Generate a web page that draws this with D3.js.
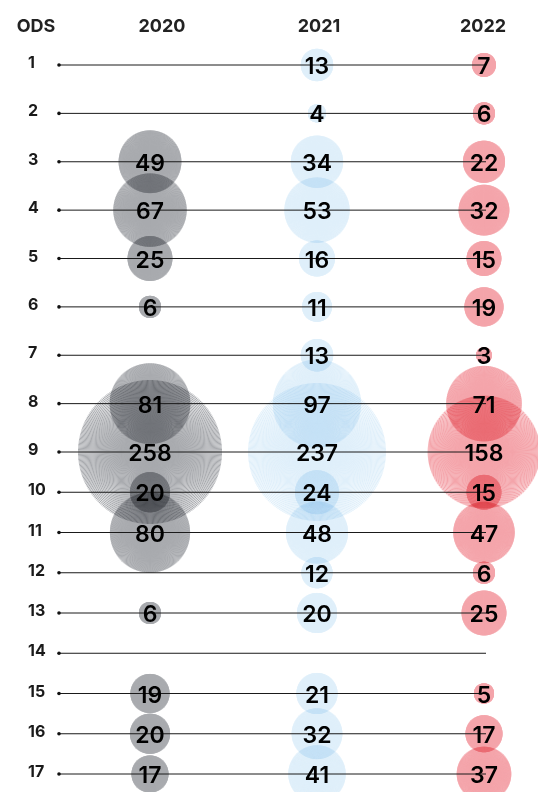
<!DOCTYPE html>
<html>
<head>
<meta charset="utf-8">
<script src="https://cdn.jsdelivr.net/npm/d3@7"></script>
<style>
  html, body { margin: 0; padding: 0; background: #fff; }
  svg { display: block; font-family: Inter, "Noto Sans", sans-serif; isolation: isolate; }
</style>
</head>
<body>
<div id="chart"></div>
<script>
const width = 538;
const height = 792;

// ODS rows and yearly counts (null = no circle)
const ods = [1, 2, 3, 4, 5, 6, 7, 8, 9, 10, 11, 12, 13, 14, 15, 16, 17];
const years = ["2020", "2021", "2022"];
const v2020 = [null, null, 49, 67, 25, 6, null, 81, 258, 20, 80, null, 6, null, 19, 20, 17];
const v2021 = [13, 4, 34, 53, 16, 11, 13, 97, 237, 24, 48, 12, 20, null, 21, 32, 41];
const v2022 = [7, 6, 22, 32, 15, 19, 3, 71, 158, 15, 47, 6, 25, null, 5, 17, 37];
const colors = ["#a8aaae", "#dfeffa", "#f4a4aa"];

const series = [v2020, v2021, v2022];
const points = [];
ods.forEach((o, i) => {
  years.forEach((yr, j) => {
    const v = series[j][i];
    if (v != null) points.push({ ods: o, year: yr, value: v, color: colors[j] });
  });
});

const x = d3.scalePoint().domain(years).range([150, 484]);
const xHead = d3.scaleOrdinal().domain(years).range([162, 319, 483]);
const y = d3.scaleLinear().domain([1, 9, 17]).range([65, 452, 774]);
const r = d3.scaleSqrt().domain([0, d3.max(points, (d) => d.value)]).range([0, 72]);

const svg = d3.create("svg").attr("width", width).attr("height", height)
  .attr("viewBox", [0, 0, width, height]);

// circles drawn as a fan of spokes, one path each
function spokes(d) {
  const p = d3.path();
  const cx = x(d.year), cy = y(d.ods), rr = r(d.value);
  const n = 360;
  for (let k = 0; k < n; k++) {
    const a = (k / n) * 2 * Math.PI;
    p.moveTo(cx, cy);
    p.lineTo(cx + rr * Math.cos(a), cy + rr * Math.sin(a));
  }
  return p.toString();
}

svg.append("g")
  .selectAll("path")
  .data(points)
  .join("path")
  .attr("d", spokes)
  .attr("fill", "none")
  .attr("stroke", (d) => d.color)
  .attr("stroke-width", 1)
  .style("mix-blend-mode", "multiply");

// row lines
const rows = svg.append("g");
rows.selectAll("line")
  .data(ods)
  .join("line")
  .attr("x1", 59)
  .attr("x2", x("2022") + 2)
  .attr("y1", (d) => y(d))
  .attr("y2", (d) => y(d))
  .attr("stroke", "#1a1a1a")
  .attr("stroke-width", 1);

rows.selectAll("circle")
  .data(ods)
  .join("circle")
  .attr("cx", 59)
  .attr("cy", (d) => y(d))
  .attr("r", 1.8)
  .attr("fill", "#111");

rows.selectAll("text")
  .data(ods)
  .join("text")
  .attr("x", 28)
  .attr("y", (d) => y(d) - 3)
  .attr("dominant-baseline", "central")
  .attr("font-size", "16px")
  .attr("font-weight", 700)
  .attr("fill", "#1a1a1a")
  .text((d) => d);

// values
svg.append("g")
  .selectAll("text")
  .data(points)
  .join("text")
  .attr("x", (d) => x(d.year))
  .attr("y", (d) => y(d.ods) + 1)
  .attr("text-anchor", "middle")
  .attr("dominant-baseline", "central")
  .attr("font-size", "23px")
  .attr("font-weight", 600)
  .attr("fill", "#000")
  .text((d) => d.value);

// header
const head = svg.append("g")
  .attr("font-size", "18px")
  .attr("font-weight", 700)
  .attr("fill", "#222")
  .attr("text-anchor", "middle");
head.append("text").attr("x", 36).attr("y", 32).text("ODS");
head.selectAll("text.yr")
  .data(years)
  .join("text")
  .attr("class", "yr")
  .attr("x", (d) => xHead(d))
  .attr("y", 32)
  .text((d) => d);

document.getElementById("chart").appendChild(svg.node());
</script>
</body>
</html>
